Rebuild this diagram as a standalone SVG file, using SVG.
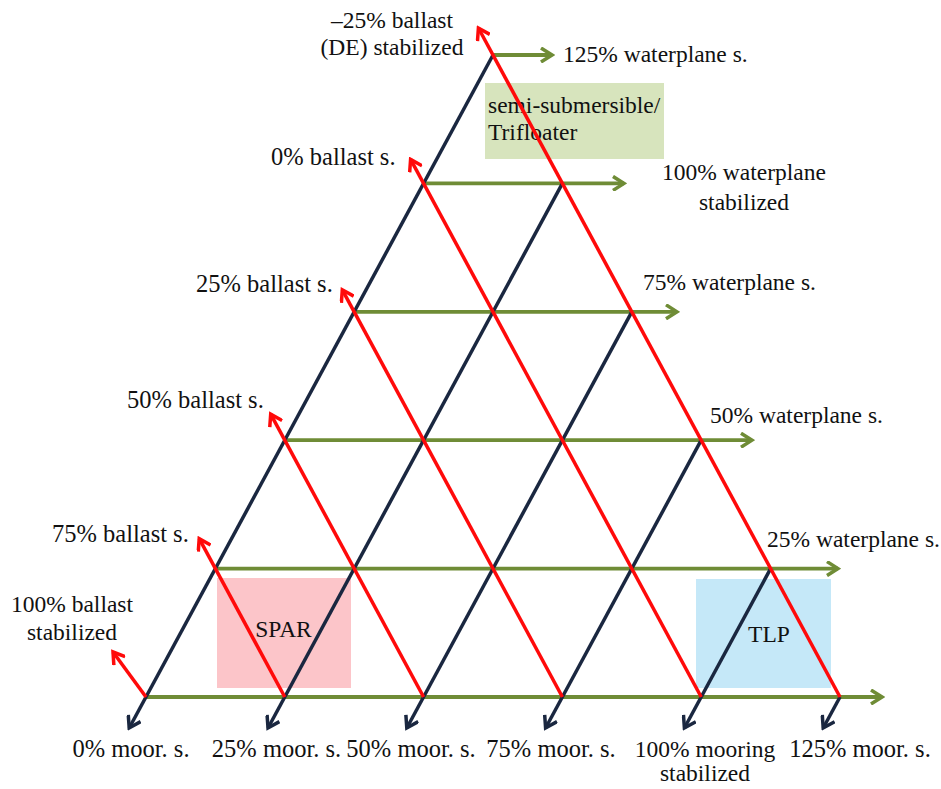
<svg xmlns="http://www.w3.org/2000/svg" width="941" height="789" viewBox="0 0 941 789">
<style>
.t{font-family:"Liberation Serif","Times New Roman",serif;font-size:23.5px;fill:#111}
.b{font-size:24.5px}
.m{text-anchor:middle}
.nv{stroke:#1a2740;stroke-width:3.5;fill:none;marker-end:url(#an)}
.rd{stroke:#ff0a0a;stroke-width:3.5;fill:none;marker-end:url(#ar)}
.gr{stroke:#6f8c36;stroke-width:3.8;fill:none;marker-end:url(#ag)}
</style>
<defs>
<marker id="an" viewBox="0 0 16 16" refX="13" refY="8" markerWidth="16" markerHeight="16" markerUnits="userSpaceOnUse" orient="auto"><path d="M2,1 L13,8 L2,15" fill="none" stroke="#1a2740" stroke-width="3.5"/></marker>
<marker id="ar" viewBox="0 0 16 16" refX="13" refY="8" markerWidth="16" markerHeight="16" markerUnits="userSpaceOnUse" orient="auto"><path d="M2,1 L13,8 L2,15" fill="none" stroke="#ff0a0a" stroke-width="3.5"/></marker>
<marker id="ag" viewBox="0 0 16 16" refX="13" refY="8" markerWidth="16" markerHeight="16" markerUnits="userSpaceOnUse" orient="auto"><path d="M2,1 L13,8 L2,15" fill="none" stroke="#6f8c36" stroke-width="3.5"/></marker>
</defs>
<rect width="941" height="789" fill="#fff"/>
<g id="semi"><rect x="485" y="83" width="179" height="76" fill="#d7e4bd"/><text class="t" x="488" y="113">semi-submersible/</text><text class="t" x="488" y="140">Trifloater</text></g>
<g id="spar"><rect x="217" y="578" width="134" height="110" fill="#fcc5c9"/><text class="t m" x="283.5" y="637">SPAR</text></g>
<g id="tlp"><rect x="696" y="579" width="135" height="109" fill="#c5e8f8"/><text class="t m" x="769" y="642">TLP</text></g>
<g id="connectors">
<path class="gr" d="M146,697 H882"/>
<path class="gr" d="M215.4,568.6 H838"/>
<path class="gr" d="M284.8,440.2 H752"/>
<path class="gr" d="M354.2,311.8 H677"/>
<path class="gr" d="M423.6,183.4 H624"/>
<path class="gr" d="M493,55 H552"/>
<path class="nv" d="M493,55 L129.2,728"/>
<path class="nv" d="M562.4,183.4 L268,728"/>
<path class="nv" d="M631.8,311.8 L406.8,728"/>
<path class="nv" d="M701.2,440.2 L545.6,728"/>
<path class="nv" d="M770.6,568.6 L684.4,728"/>
<path class="nv" d="M840,697 L823.2,728"/>
<path class="rd" d="M840,697 L478.4,28"/>
<path class="rd" d="M701.2,697 L410.6,159.4"/>
<path class="rd" d="M562.4,697 L342.3,289.8"/>
<path class="rd" d="M423.6,697 L270.7,414.2"/>
<path class="rd" d="M284.8,697 L199.2,538.6"/>
<path class="rd" d="M146,697 L113,652"/>
</g>
<g id="ballast-m25"><text class="t m" x="392" y="28">–25% ballast</text><text class="t m" x="392" y="55">(DE) stabilized</text></g>
<g id="ballast-0"><text class="t b" x="271" y="165">0% ballast s.</text></g>
<g id="ballast-25"><text class="t b" x="196" y="292">25% ballast s.</text></g>
<g id="ballast-50"><text class="t b" x="127" y="408">50% ballast s.</text></g>
<g id="ballast-75"><text class="t b" x="52" y="542">75% ballast s.</text></g>
<g id="ballast-100"><text class="t m" x="72" y="612">100% ballast</text><text class="t m" x="72" y="640">stabilized</text></g>
<g id="wp-125"><text class="t" x="563" y="62">125% waterplane s.</text></g>
<g id="wp-100"><text class="t m" x="744" y="180">100% waterplane</text><text class="t m" x="744" y="210">stabilized</text></g>
<g id="wp-75"><text class="t" x="643" y="290">75% waterplane s.</text></g>
<g id="wp-50"><text class="t" x="710" y="423">50% waterplane s.</text></g>
<g id="wp-25"><text class="t" x="767" y="547">25% waterplane s.</text></g>
<g id="moor-0"><text class="t b m" x="131" y="757">0% moor. s.</text></g>
<g id="moor-25"><text class="t b m" x="276.5" y="757">25% moor. s.</text></g>
<g id="moor-50"><text class="t b m" x="411" y="757">50% moor. s.</text></g>
<g id="moor-75"><text class="t b m" x="551" y="757">75% moor. s.</text></g>
<g id="moor-100"><text class="t m" x="705" y="757">100% mooring</text><text class="t m" x="705" y="781">stabilized</text></g>
<g id="moor-125"><text class="t b m" x="860" y="757">125% moor. s.</text></g>
</svg>
